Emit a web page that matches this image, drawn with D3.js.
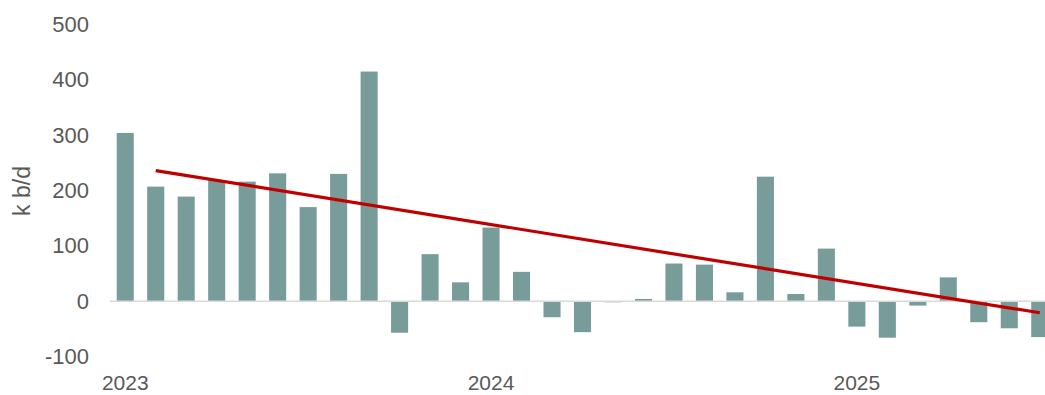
<!DOCTYPE html>
<html lang="en">
<head>
    <meta charset="UTF-8">
    <title>k b/d</title>
    <script src="https://cdn.jsdelivr.net/npm/d3@7/dist/d3.min.js"></script>
    <style>
        body { margin: 0; background: #fff; }
        svg text { font-family: "Liberation Sans", Arial, sans-serif; fill: #595959; }
    </style>
</head>
<body>
    <div id="chart"></div>
    <script>
        // monthly values, Jan 2023 - Jul 2025
        var months = [
            "2023-01","2023-02","2023-03","2023-04","2023-05","2023-06","2023-07","2023-08","2023-09","2023-10","2023-11","2023-12",
            "2024-01","2024-02","2024-03","2024-04","2024-05","2024-06","2024-07","2024-08","2024-09","2024-10","2024-11","2024-12",
            "2025-01","2025-02","2025-03","2025-04","2025-05","2025-06","2025-07"
        ];
        var values = [
            304, 207, 189, 219, 216, 231, 170, 230, 415, -57, 85, 34,
            133, 53, -29, -56, -2, 4, 68, 66, 16, 225, 13, 95,
            -46, -66, -8, 43, -38, -49, -65
        ];
        // trend line end points
        var trendMonths = ["2023-02", "2025-07"];
        var trendValues = [236, -21];
        var yTicks = [500, 400, 300, 200, 100, 0, -100];
        var yearLabels = ["2023-01", "2024-01", "2025-01"];

        var width = 1045, height = 395;

        var svg = d3.select("#chart").append("svg")
            .attr("width", width)
            .attr("height", height);

        var x = d3.scaleBand()
            .domain(months)
            .range([110, 1055])
            .paddingInner(0.44)
            .paddingOuter(0.22);

        var y = d3.scaleLinear()
            .domain([-100, 500])
            .range([356.5, 24.5]);

        // y axis labels (plain hyphen for negatives)
        var yAxis = svg.append("g")
            .attr("transform", "translate(89,0)")
            .call(d3.axisLeft(y).tickValues(yTicks)
                .tickFormat(function(d) { return String(d); })
                .tickSize(0).tickPadding(0));
        yAxis.select(".domain").remove();
        yAxis.selectAll("text").style("font-size", "22px");

        // bars
        svg.selectAll("rect.bar")
            .data(values)
            .enter()
            .append("rect")
            .attr("class", "bar")
            .attr("x", function(d, i) { return x(months[i]); })
            .attr("y", function(d) { return y(Math.max(0, d)); })
            .attr("width", x.bandwidth())
            .attr("height", function(d) { return Math.abs(y(d) - y(0)); })
            .attr("fill", "#789c9a");

        // zero line
        svg.append("line")
            .attr("x1", 110).attr("x2", width)
            .attr("y1", y(0)).attr("y2", y(0))
            .attr("stroke", "#d9d9d9")
            .attr("stroke-width", 1.5);

        // trend
        var line = d3.line()
            .x(function(d, i) { return x(trendMonths[i]) + x.bandwidth() / 2; })
            .y(function(d) { return y(d); });
        svg.append("path")
            .datum(trendValues)
            .attr("d", line)
            .attr("fill", "none")
            .attr("stroke", "#c00000")
            .attr("stroke-width", 3.2);

        // x labels
        var xAxis = svg.append("g")
            .attr("transform", "translate(0,375)")
            .call(d3.axisBottom(x)
                .tickValues(yearLabels)
                .tickFormat(function(d) { return d.slice(0, 4); })
                .tickSize(0).tickPadding(0));
        xAxis.select(".domain").remove();
        xAxis.selectAll("text").style("font-size", "21px").attr("dy", "0.71em");

        // axis title
        svg.append("text")
            .attr("transform", "translate(30,191) rotate(-90)")
            .attr("text-anchor", "middle")
            .style("font-size", "23px")
            .text("k b/d");
    </script>
</body>
</html>
